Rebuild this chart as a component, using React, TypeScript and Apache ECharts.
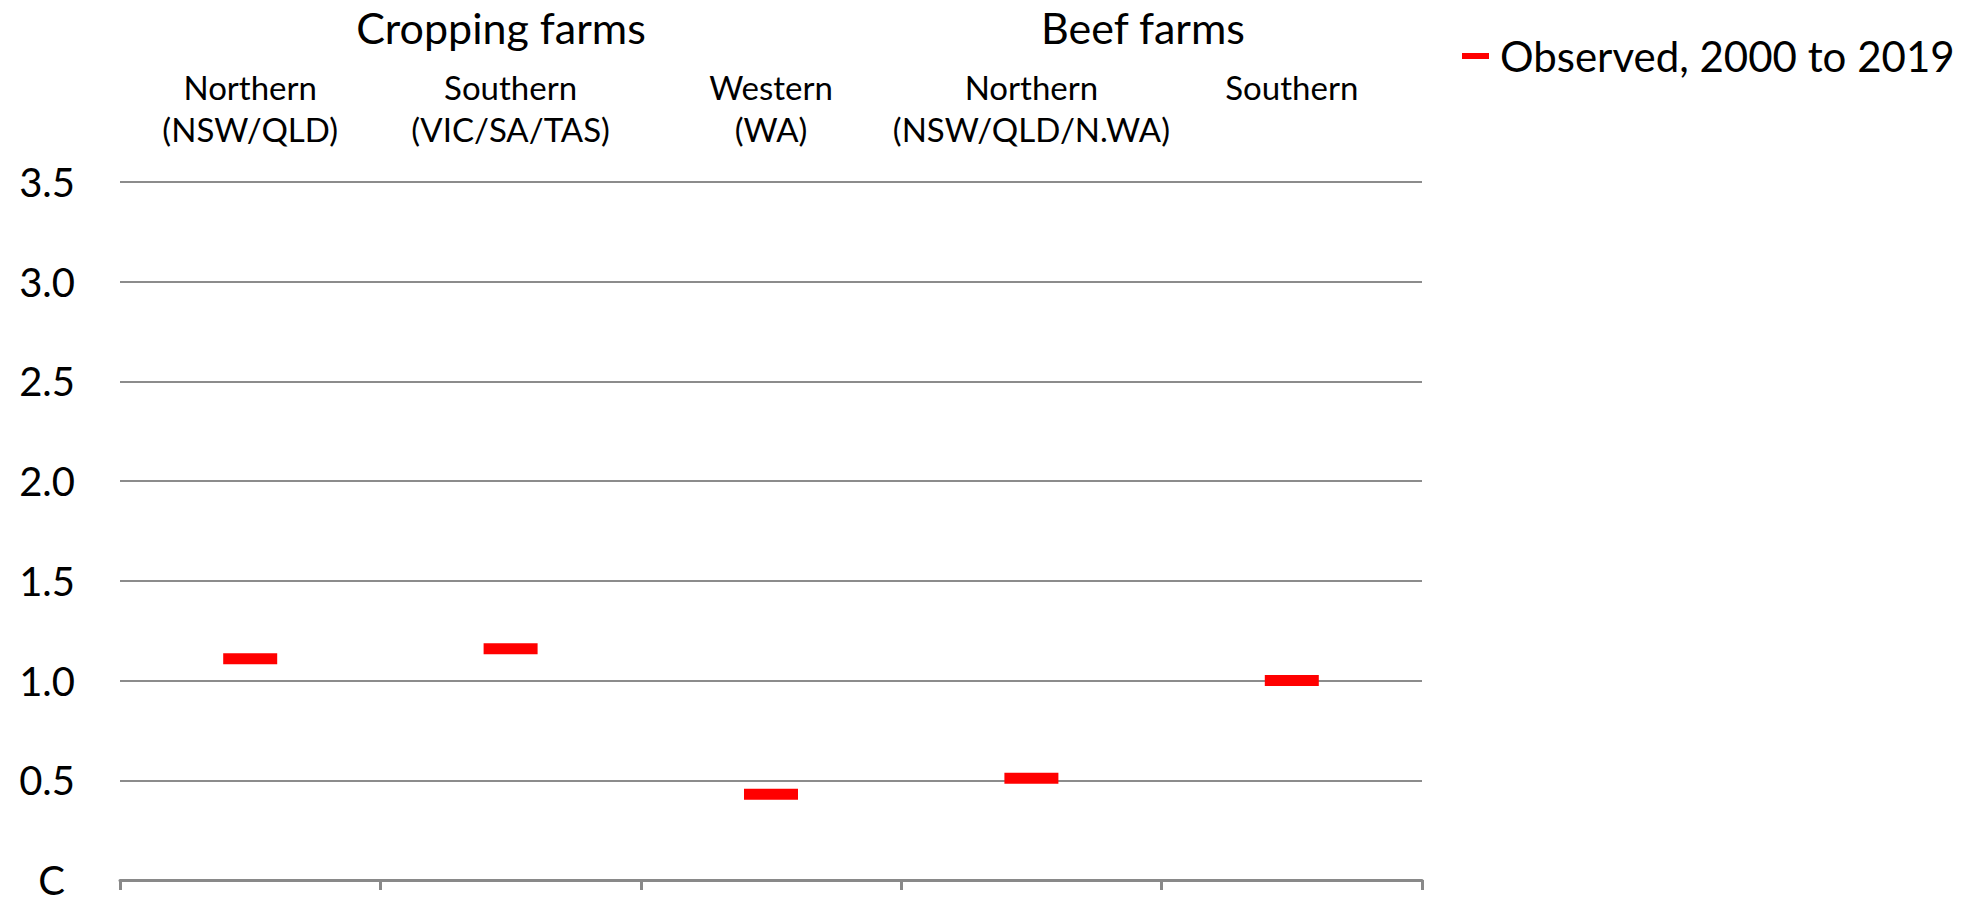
import React, { useEffect, useRef } from "react";
import * as echarts from "echarts";

// Region categories shown along the top of the plot
const regions = [
  "Northern\n(NSW/QLD)",
  "Southern\n(VIC/SA/TAS)",
  "Western\n(WA)",
  "Northern\n(NSW/QLD/N.WA)",
  "Southern",
];

// Observed values, 2000 to 2019
const observed = [1.11, 1.16, 0.43, 0.51, 1.0];

// Farm type group headings
const groups = ["Cropping farms", "Beef farms"];

const seriesName = "Observed, 2000 to 2019";
const FONT = "Lato, 'Noto Sans', sans-serif";

export default function App() {
  const ref = useRef<HTMLDivElement>(null);

  useEffect(() => {
    if (!ref.current) return;
    const chart = echarts.init(ref.current, undefined, { renderer: "svg" });
    chart.setOption({
      animation: false,
      backgroundColor: "#ffffff",
      textStyle: { fontFamily: FONT },
      grid: { left: 120, right: 560, top: 182, bottom: 17, containLabel: false },
      legend: {
        data: [{ name: seriesName, icon: "rect", itemStyle: { color: "#ff0000", opacity: 1 } }],
        left: 1457,
        top: 26,
        itemWidth: 27,
        itemHeight: 6,
        textStyle: {
          fontFamily: FONT,
          fontSize: 42,
          color: "#000",
          lineHeight: 50,
          padding: [0, 0, 0, 6],
        },
      },
      graphic: [
        {
          type: "text",
          x: 501,
          y: 27,
          style: {
            text: groups[0],
            fontFamily: FONT,
            fontSize: 43,
            fill: "#000",
            align: "center",
            verticalAlign: "middle",
          },
        },
        {
          type: "text",
          x: 1143,
          y: 27,
          style: {
            text: groups[1],
            fontFamily: FONT,
            fontSize: 43,
            fill: "#000",
            align: "center",
            verticalAlign: "middle",
          },
        },
      ],
      xAxis: [
        {
          type: "category",
          data: regions,
          position: "bottom",
          axisLine: { show: true, lineStyle: { color: "#898989", width: 3 } },
          axisTick: { show: true, length: 10, lineStyle: { color: "#898989", width: 3 } },
          axisLabel: { show: false },
          splitLine: { show: false },
        },
        {
          type: "category",
          data: regions,
          position: "top",
          axisLine: { show: false },
          axisTick: { show: false },
          axisLabel: {
            show: true,
            interval: 0,
            margin: 116,
            verticalAlign: "top",
            fontFamily: FONT,
            fontSize: 33,
            lineHeight: 42,
            color: "#000",
          },
        },
      ],
      yAxis: {
        type: "value",
        min: 0,
        max: 3.5,
        interval: 0.5,
        axisLine: { show: false },
        axisTick: { show: false },
        splitLine: { show: true, lineStyle: { color: "#8c8c8c", width: 2 } },
        axisLabel: {
          margin: 45,
          fontFamily: FONT,
          fontSize: 40,
          color: "#000",
          formatter: (v: number) => (v === 0 ? "{z|C}" : v.toFixed(1)),
          rich: {
            z: {
              fontFamily: FONT,
              fontSize: 40,
              lineHeight: 30,
              color: "#000",
              padding: [0, 10, 0, 0],
            },
          },
        },
      },
      series: [
        {
          name: seriesName,
          type: "scatter",
          xAxisIndex: 0,
          symbol: "rect",
          symbolSize: [54, 11],
          itemStyle: { color: "#ff0000", opacity: 1 },
          data: observed,
          z: 5,
        },
      ],
    });
    return () => chart.dispose();
  }, []);

  return (
    <div
      ref={ref}
      style={{ position: "fixed", left: 0, top: 0, width: 1982, height: 900 }}
    />
  );
}
